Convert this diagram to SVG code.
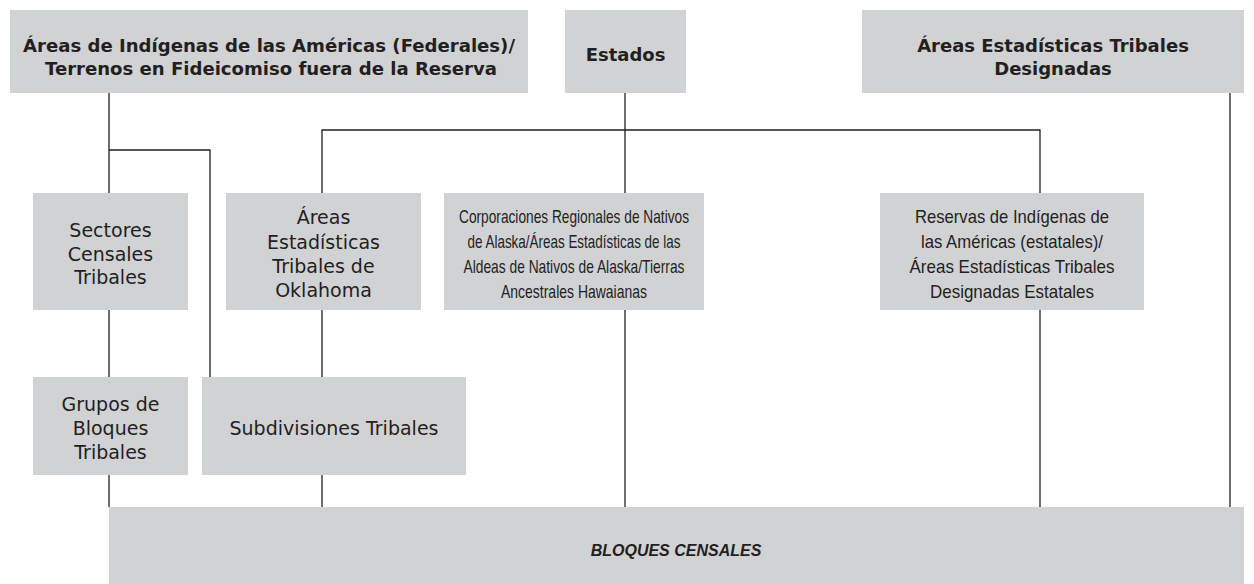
<svg xmlns="http://www.w3.org/2000/svg" width="1254" height="584" viewBox="0 0 1254 584">
<style>
.box{fill:#d1d2d4}
.t{font-family:"DejaVu Sans","Liberation Sans",Arial,sans-serif;font-size:19px;fill:#231f20;text-anchor:middle}
.n{font-family:"Liberation Sans",Arial,sans-serif;font-size:19px}
.b{font-weight:bold;font-size:18px}
.bi{font-family:"Liberation Sans",Arial,sans-serif;font-weight:bold;font-style:italic;font-size:16px}
.c{fill:none;stroke:#231f20;stroke-width:1.3}
</style>
<rect width="1254" height="584" fill="#ffffff"/>
<g id="connectors">
<path class="c" d="M109,93 V507"/>
<path class="c" d="M109,150 H210 V377"/>
<path class="c" d="M625,93 V507"/>
<path class="c" d="M322,193 V130 H1040 V193"/>
<path class="c" d="M1230,93 V507"/>
<path class="c" d="M322,310 V377 M322,475 V507"/>
<path class="c" d="M1040,310 V507"/>
</g>
<g id="n-federales">
<rect class="box" x="10" y="10" width="518" height="83"/>
<text class="t b" x="269" y="52" textLength="492" lengthAdjust="spacingAndGlyphs">Áreas de Indígenas de las Américas (Federales)/</text>
<text class="t b" x="271" y="75" textLength="452" lengthAdjust="spacingAndGlyphs">Terrenos en Fideicomiso fuera de la Reserva</text>
</g>
<g id="n-estados">
<rect class="box" x="565" y="10" width="121" height="83"/>
<text class="t b" x="625.5" y="61">Estados</text>
</g>
<g id="n-designadas">
<rect class="box" x="862" y="10" width="382" height="83"/>
<text class="t b" x="1053" y="52">Áreas Estadísticas Tribales</text>
<text class="t b" x="1053" y="75">Designadas</text>
</g>
<g id="n-sectores">
<rect class="box" x="33" y="193" width="155" height="117"/>
<text class="t" x="110.5" y="237">Sectores</text>
<text class="t" x="110.5" y="261">Censales</text>
<text class="t" x="110.5" y="284">Tribales</text>
</g>
<g id="n-oklahoma">
<rect class="box" x="226" y="193" width="195" height="117"/>
<text class="t" x="323.5" y="224">Áreas</text>
<text class="t" x="323.5" y="249">Estadísticas</text>
<text class="t" x="323.5" y="273">Tribales de</text>
<text class="t" x="323.5" y="297">Oklahoma</text>
</g>
<g id="n-corporaciones">
<rect class="box" x="444" y="193" width="260" height="117"/>
<text class="t n" x="574" y="223" textLength="230" lengthAdjust="spacingAndGlyphs">Corporaciones Regionales de Nativos</text>
<text class="t n" x="574" y="248" textLength="213" lengthAdjust="spacingAndGlyphs">de Alaska/Áreas Estadísticas de las</text>
<text class="t n" x="574" y="273" textLength="221" lengthAdjust="spacingAndGlyphs">Aldeas de Nativos de Alaska/Tierras</text>
<text class="t n" x="574" y="298" textLength="146" lengthAdjust="spacingAndGlyphs">Ancestrales Hawaianas</text>
</g>
<g id="n-reservas">
<rect class="box" x="880" y="193" width="264" height="117"/>
<text class="t n" x="1012" y="223" textLength="194" lengthAdjust="spacingAndGlyphs">Reservas de Indígenas de</text>
<text class="t n" x="1012" y="248" textLength="182" lengthAdjust="spacingAndGlyphs">las Américas (estatales)/</text>
<text class="t n" x="1012" y="273" textLength="205" lengthAdjust="spacingAndGlyphs">Áreas Estadísticas Tribales</text>
<text class="t n" x="1012" y="298" textLength="164" lengthAdjust="spacingAndGlyphs">Designadas Estatales</text>
</g>
<g id="n-grupos">
<rect class="box" x="33" y="377" width="155" height="98"/>
<text class="t" x="110.5" y="411">Grupos de</text>
<text class="t" x="110.5" y="435">Bloques</text>
<text class="t" x="110.5" y="459">Tribales</text>
</g>
<g id="n-subdivisiones">
<rect class="box" x="202" y="377" width="264" height="98"/>
<text class="t" x="334" y="435">Subdivisiones Tribales</text>
</g>
<g id="n-bloques">
<rect class="box" x="109" y="507" width="1135" height="77"/>
<text class="t bi" x="676" y="556">BLOQUES CENSALES</text>
</g>
</svg>
